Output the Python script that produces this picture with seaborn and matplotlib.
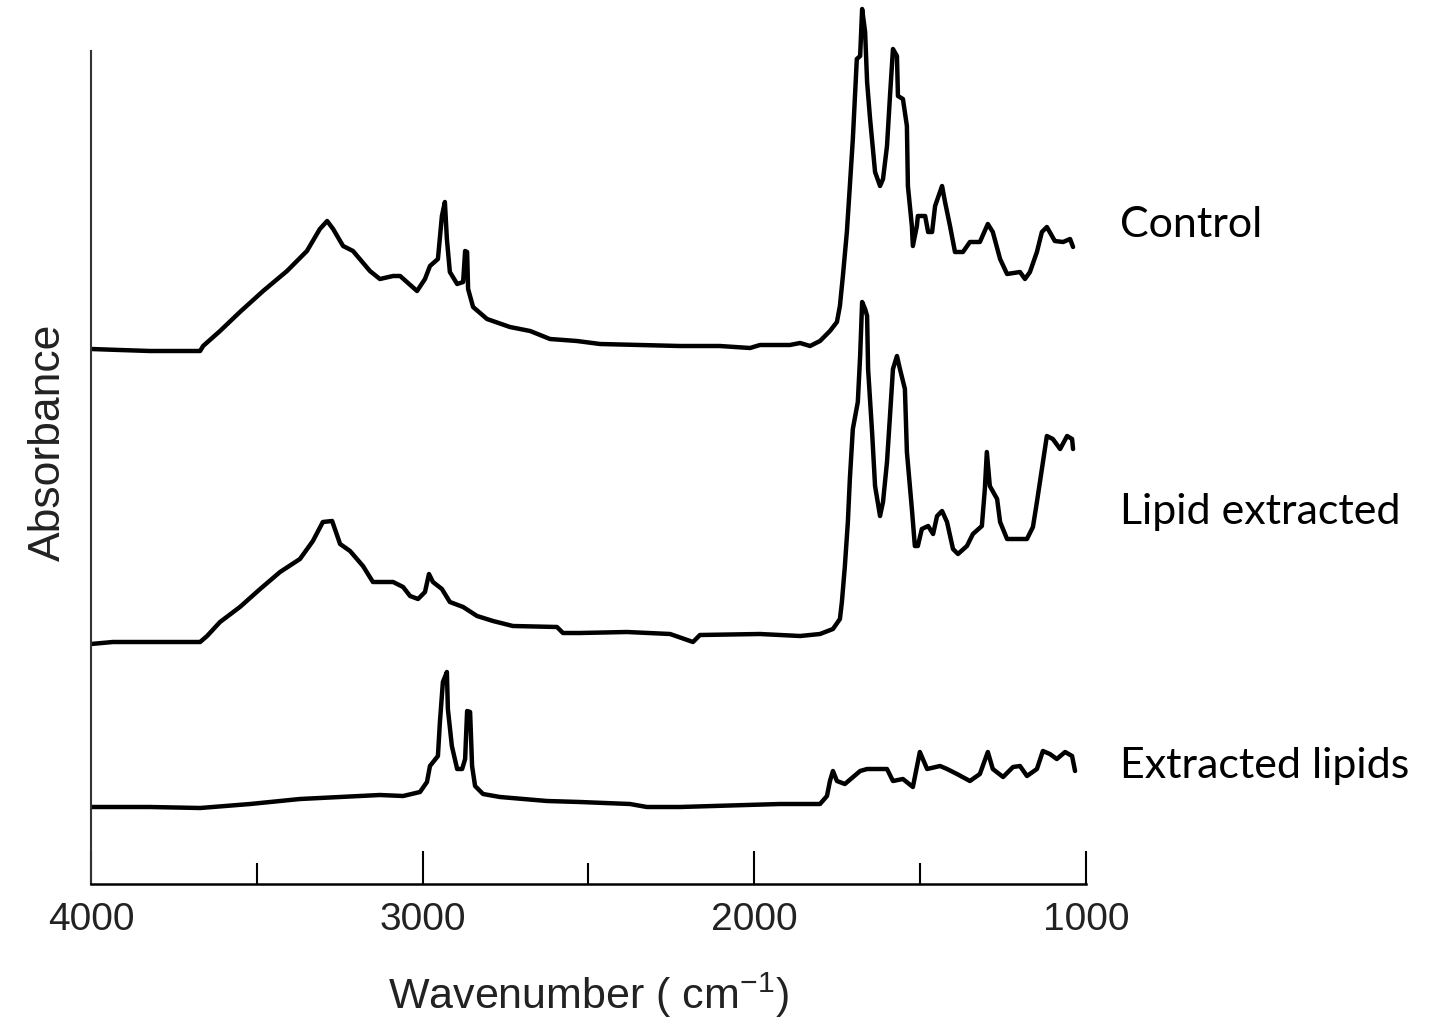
import numpy as np
import pandas as pd
import matplotlib
matplotlib.use("Agg")
import matplotlib.pyplot as plt
import seaborn as sns
from matplotlib.ticker import FixedLocator

# FTIR spectra (absorbance, arbitrary units, relative to each baseline)
control_wn = [4000, 3913, 3822, 3671, 3662, 3611, 3551, 3481, 3409, 3349, 3310, 3288, 3270,
              3240, 3210, 3159, 3129, 3089, 3068, 3017, 2993, 2978, 2954, 2942, 2933, 2927,
              2918, 2896, 2878, 2872, 2866, 2863, 2848, 2806, 2737, 2676, 2616, 2535, 2465,
              2345, 2224, 2104, 2013, 1983, 1893, 1862, 1832, 1802, 1772, 1751, 1742, 1733,
              1721, 1712, 1703, 1697, 1691, 1681, 1675, 1666, 1660, 1651, 1636, 1621, 1612,
              1600, 1591, 1582, 1570, 1567, 1552, 1540, 1537, 1525, 1522, 1510, 1507, 1485,
              1476, 1464, 1455, 1434, 1425, 1410, 1395, 1371, 1350, 1320, 1296, 1281, 1259,
              1238, 1199, 1184, 1169, 1148, 1133, 1118, 1094, 1069, 1048, 1039]
control_abs = [0.00, -0.01, -0.02, -0.02, 0.03, 0.18, 0.37, 0.58, 0.78, 0.98, 1.20, 1.28, 1.20,
               1.03, 0.98, 0.78, 0.70, 0.73, 0.73, 0.58, 0.70, 0.83, 0.90, 1.33, 1.47, 1.10,
               0.77, 0.65, 0.67, 0.98, 0.97, 0.60, 0.42, 0.30, 0.22, 0.18, 0.10, 0.08, 0.05,
               0.04, 0.03, 0.03, 0.01, 0.04, 0.04, 0.06, 0.03, 0.08, 0.18, 0.27, 0.43, 0.73,
               1.17, 1.63, 2.10, 2.50, 2.90, 2.93, 3.40, 3.17, 2.67, 2.30, 1.77, 1.63, 1.70,
               2.03, 2.53, 3.00, 2.93, 2.53, 2.50, 2.23, 1.63, 1.23, 1.03, 1.23, 1.33, 1.33,
               1.17, 1.17, 1.43, 1.63, 1.47, 1.23, 0.97, 0.97, 1.07, 1.07, 1.25, 1.17, 0.90,
               0.75, 0.77, 0.70, 0.77, 0.97, 1.17, 1.22, 1.08, 1.07, 1.10, 1.02]

residue_wn = [4000, 3934, 3831, 3671, 3650, 3611, 3551, 3490, 3430, 3370, 3331, 3301, 3273,
              3249, 3219, 3180, 3150, 3089, 3059, 3038, 3014, 2993, 2981, 2969, 2942, 2918,
              2878, 2836, 2788, 2728, 2595, 2577, 2526, 2384, 2254, 2185, 2164, 1983, 1862,
              1802, 1763, 1742, 1736, 1727, 1718, 1712, 1703, 1688, 1681, 1675, 1666, 1660,
              1657, 1645, 1636, 1621, 1612, 1600, 1591, 1582, 1570, 1561, 1546, 1540, 1525,
              1516, 1507, 1495, 1476, 1461, 1449, 1434, 1419, 1401, 1386, 1359, 1341, 1314,
              1305, 1299, 1290, 1268, 1259, 1238, 1178, 1160, 1148, 1133, 1118, 1100, 1078,
              1057, 1042, 1039]
residue_abs = [-0.02, 0.00, 0.00, 0.00, 0.06, 0.20, 0.35, 0.53, 0.70, 0.83, 1.01, 1.20, 1.21,
               0.98, 0.91, 0.76, 0.60, 0.60, 0.55, 0.46, 0.43, 0.50, 0.68, 0.60, 0.53, 0.40,
               0.35, 0.26, 0.21, 0.16, 0.15, 0.09, 0.09, 0.10, 0.08, 0.00, 0.07, 0.08, 0.06,
               0.08, 0.13, 0.23, 0.40, 0.76, 1.20, 1.63, 2.13, 2.40, 2.86, 3.40, 3.33, 3.26,
               2.73, 2.10, 1.56, 1.26, 1.40, 1.80, 2.26, 2.73, 2.86, 2.73, 2.53, 1.90, 1.33,
               0.96, 0.96, 1.13, 1.16, 1.08, 1.26, 1.31, 1.20, 0.93, 0.88, 0.96, 1.08, 1.16,
               1.53, 1.90, 1.56, 1.43, 1.20, 1.03, 1.03, 1.15, 1.40, 1.73, 2.06, 2.03, 1.93,
               2.06, 2.03, 1.93]

lipids_wn = [4000, 3822, 3671, 3520, 3370, 3129, 3059, 3008, 2987, 2978, 2954, 2948, 2939,
             2927, 2924, 2912, 2896, 2881, 2872, 2866, 2857, 2851, 2842, 2818, 2767, 2625,
             2526, 2375, 2324, 2224, 1923, 1802, 1781, 1772, 1763, 1751, 1727, 1681, 1660,
             1600, 1582, 1552, 1522, 1501, 1479, 1440, 1419, 1389, 1350, 1320, 1296, 1281,
             1250, 1220, 1199, 1178, 1148, 1130, 1109, 1088, 1063, 1042, 1033]
lipids_abs = [-0.02, -0.02, -0.03, 0.01, 0.06, 0.10, 0.09, 0.13, 0.23, 0.39, 0.49, 0.83, 1.23,
              1.33, 0.96, 0.59, 0.36, 0.36, 0.46, 0.94, 0.93, 0.39, 0.19, 0.11, 0.08, 0.04,
              0.03, 0.01, -0.02, -0.02, 0.01, 0.01, 0.09, 0.24, 0.34, 0.24, 0.21, 0.34, 0.36,
              0.36, 0.24, 0.26, 0.18, 0.53, 0.36, 0.39, 0.36, 0.31, 0.24, 0.31, 0.53, 0.36,
              0.28, 0.38, 0.39, 0.29, 0.36, 0.54, 0.51, 0.46, 0.53, 0.49, 0.34]

sample_names = ["Control", "Lipid extracted", "Extracted lipids"]
stack_offsets = [5.35, 2.42, 0.79]

frames = []
for name, wn, ab, off in zip(sample_names,
                             [control_wn, residue_wn, lipids_wn],
                             [control_abs, residue_abs, lipids_abs],
                             stack_offsets):
    frames.append(pd.DataFrame({"sample": name,
                                "wavenumber": wn,
                                "signal": np.asarray(ab) + off}))
spectra = pd.concat(frames, ignore_index=True)

sns.set_style("white")
plt.rcParams["font.family"] = ["Liberation Sans", "DejaVu Sans"]
plt.rcParams["mathtext.fontset"] = "custom"
plt.rcParams["mathtext.rm"] = "Liberation Sans"
plt.rcParams["mathtext.it"] = "Liberation Sans"

W, H = 1435, 1020
fig = plt.figure(figsize=(W / 100, H / 100), dpi=100)
ax = fig.add_axes([91 / W, (H - 885) / H, (1086 - 91) / W, 885 / H])

for name in sample_names:
    sns.lineplot(data=spectra[spectra["sample"] == name], x="wavenumber", y="signal",
                 ax=ax, color="black", linewidth=3.2, estimator=None, sort=False,
                 legend=False)

ax.set_xlim(4000, 1000)
ax.set_ylim(0, 8.85)

for side in ("top", "right"):
    ax.spines[side].set_visible(False)
ax.spines["left"].set_bounds(0, 8.33)
ax.spines["left"].set_linewidth(1.5)
ax.spines["left"].set_color("#333333")
ax.spines["bottom"].set_linewidth(1.8)
ax.spines["bottom"].set_color("black")

ax.xaxis.set_major_locator(FixedLocator([4000, 3000, 2000, 1000]))
ax.xaxis.set_minor_locator(FixedLocator([3500, 2500, 1500]))
ax.tick_params(axis="x", which="major", direction="in", length=24, width=1.5,
               labelsize=28, pad=12, color="black", labelcolor="#222222", bottom=True)
ax.tick_params(axis="x", which="minor", direction="in", length=15, width=1.5,
               color="black", bottom=True)
ax.set_yticks([])
ax.grid(False)

ax.set_xlabel("Wavenumber ( cm$^{-1}$)", fontsize=31, labelpad=24, color="#222222")
ax.set_ylabel("Absorbance", fontsize=32, labelpad=16, color="#222222")

label_baselines = [237, 524, 778]
for name, yb in zip(sample_names, label_baselines):
    fig.text(1120 / W, 1 - yb / H, name, fontsize=31, family=["Lato", "DejaVu Sans"],
             ha="left", va="baseline", color="black")

fig.savefig("out.png", dpi=100, facecolor="white")
